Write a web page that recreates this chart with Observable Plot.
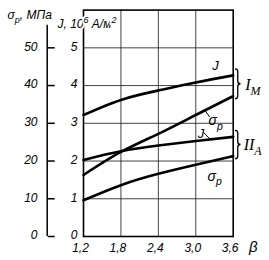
<!DOCTYPE html>
<html><head><meta charset="utf-8">
<script src="https://cdn.jsdelivr.net/npm/d3@7"></script>
<script src="https://cdn.jsdelivr.net/npm/@observablehq/plot@0.6"></script>
<style>html,body{margin:0;padding:0;background:#fff;}</style>
</head><body><div id="chart"></div>
<script>
// ---- data ----
const beta = [1.2, 1.8, 2.4, 3.0, 3.6];
const jIM = [3.22, 3.62, 3.87, 4.08, 4.27];        // J, 10^6 A/m^2 (group I_M)
const sigmaIM = [16.3, 22.4, 27.2, 32.2, 37.2];     // σp, MPa (group I_M)
const jIIA = [2.03, 2.26, 2.41, 2.53, 2.64];        // J (group II_A)
const sigmaIIA = [9.6, 13.6, 16.6, 19.0, 21.3];     // σp (group II_A)
const xTicks = [1.2, 1.8, 2.4, 3.0, 3.6];
const jTicks = [0, 1, 2, 3, 4, 5];
const sigmaTicks = [0, 10, 20, 30, 40, 50];

const series = [
  {key: "J I", values: jIM, k: 1},
  {key: "σ I", values: sigmaIM, k: 0.1},
  {key: "J II", values: jIIA, k: 1},
  {key: "σ II", values: sigmaIIA, k: 0.1}
];
const rows = series.flatMap(s => s.values.map((v, i) => ({key: s.key, beta: beta[i], v: v * s.k})));

const FONT = "'Liberation Sans', Arial, sans-serif";
const SERIF = "'Liberation Serif', 'DejaVu Serif', serif";
const gridStyle = {stroke: "#222", strokeOpacity: 0.85, strokeWidth: 1};

const plot = Plot.plot({
  width: 269, height: 260,
  marginLeft: 83, marginRight: 36.3, marginTop: 9.6, marginBottom: 24,
  style: {fontFamily: FONT, fontStyle: "italic", fontSize: "12px", color: "#000", background: "#fff"},
  x: {domain: [xTicks[0], xTicks[xTicks.length - 1]]},
  y: {domain: [0, 6]},
  marks: [
    Plot.gridX(xTicks.slice(1, -1), gridStyle),
    Plot.gridY(jTicks.slice(1), gridStyle),
    Plot.frame({stroke: "#000", strokeWidth: 1.6}),
    Plot.line(rows, {x: "beta", y: "v", z: "key", curve: "natural", stroke: "#000", strokeWidth: 2.6}),
    Plot.axisX(xTicks, {tickSize: 0, tickPadding: 7, dx: -3, label: null,
      tickFormat: d => d.toFixed(1).replace(".", ",")}),
    Plot.axisY(jTicks, {anchor: "left", tickSize: 0, tickPadding: 6, dy: -1, label: null}),
    // secondary σp axis (σ = 10·J)
    Plot.ruleX([xTicks[0]], {y1: 0, y2: 5.6, dx: -36.3, strokeWidth: 1.5}),
    Plot.axisY(jTicks, {anchor: "right", tickSize: 7, dx: -186, tickFormat: () => "", label: null, strokeWidth: 1.5}),
    Plot.axisY(jTicks, {anchor: "left", tickSize: 0, tickPadding: 0, dx: -46, dy: -1, label: null,
      tickFormat: d => String(sigmaTicks[jTicks.indexOf(d)])}),
    // axis titles
    Plot.text(["σ_{р}, МПа"], {frameAnchor: "top-left", lineAnchor: "middle", dx: -76, dy: 5.4,
      textAnchor: "start", fontSize: 12}),
    Plot.text(["J, 10^{6} А/м^{2}"], {frameAnchor: "top-left", lineAnchor: "middle", dx: -26, dy: 14.4,
      textAnchor: "start", fontSize: 12, fill: "#000", stroke: "#fff", strokeWidth: 4}),
    Plot.text(["β"], {x: xTicks[xTicks.length - 1], frameAnchor: "bottom", lineAnchor: "middle",
      dx: 20, dy: 11, fontSize: 15}),
    // curve labels and leaders
    Plot.text(["J"], {x: 3.316, y: 4.53, fontSize: 13}),
    Plot.text(["σ_{р}"], {x: 3.204, y: 3.07, textAnchor: "start", fontSize: 14}),
    Plot.text(["J"], {x: 3.084, y: 2.73, fontSize: 13}),
    Plot.text(["σ_{р}"], {x: 3.188, y: 1.6, textAnchor: "start", fontSize: 14}),
    Plot.link([0], {x1: 3.14, y1: 3.36, x2: 3.225, y2: 3.16, strokeWidth: 1}),
    Plot.link([0], {x1: 3.124, y1: 2.756, x2: 3.236, y2: 2.57, strokeWidth: 1}),
    // group labels
    Plot.text(["I_{М}"], {x: xTicks[xTicks.length - 1], y: (jIM[4] + sigmaIM[4] / 10) / 2, dx: 12, dy: -1,
      textAnchor: "start", fontSize: 16, fontFamily: SERIF}),
    Plot.text(["II_{А}"], {x: xTicks[xTicks.length - 1], y: (jIIA[4] + sigmaIIA[4] / 10) / 2, dx: 10.5, dy: -2,
      textAnchor: "start", fontSize: 16, fontFamily: SERIF})
  ]
});
document.getElementById("chart").appendChild(plot);

// sub/superscripts as tspans
function richify(root) {
  root.querySelectorAll("text").forEach(el => {
    const s = el.textContent;
    if (!/[_^]\{/.test(s)) return;
    const fs = parseFloat(getComputedStyle(el).fontSize) || 12;
    const parts = s.split(/([_^]\{[^}]*\})/).filter(Boolean);
    while (el.firstChild) el.removeChild(el.firstChild);
    let shift = 0;
    for (const p of parts) {
      const m = p.match(/^([_^])\{([^}]*)\}$/);
      const ts = document.createElementNS("http://www.w3.org/2000/svg", "tspan");
      let target = 0;
      if (m) {
        ts.textContent = m[2];
        ts.setAttribute("font-size", (fs * 0.75).toFixed(1));
        target = m[1] === "_" ? fs * 0.32 : -fs * 0.42;
      } else ts.textContent = p;
      const d = target - shift;
      if (d) ts.setAttribute("dy", d.toFixed(2));
      shift = target;
      el.appendChild(ts);
    }
  });
}
richify(plot);

// braces
const X = plot.scale("x"), Y = plot.scale("y");
function brace(x, y1, y2, w) {
  const ym = (y1 + y2) / 2, q = w / 2;
  return `M${x},${y1}Q${x + q},${y1} ${x + q},${y1 + q}L${x + q},${ym - q}Q${x + q},${ym} ${x + w},${ym}` +
         `Q${x + q},${ym} ${x + q},${ym + q}L${x + q},${y2 - q}Q${x + q},${y2} ${x},${y2}`;
}
const xr = X.apply(xTicks[xTicks.length - 1]) + 2.3;
[[jIM[4], sigmaIM[4] / 10], [jIIA[4], sigmaIIA[4] / 10]].forEach(([a, b]) => {
  d3.select(plot).append("path")
    .attr("d", brace(xr, Y.apply(a) - 6, Y.apply(b) + 3, 5.5))
    .attr("fill", "none").attr("stroke", "#000").attr("stroke-width", 1.3);
});
</script>
</body></html>
